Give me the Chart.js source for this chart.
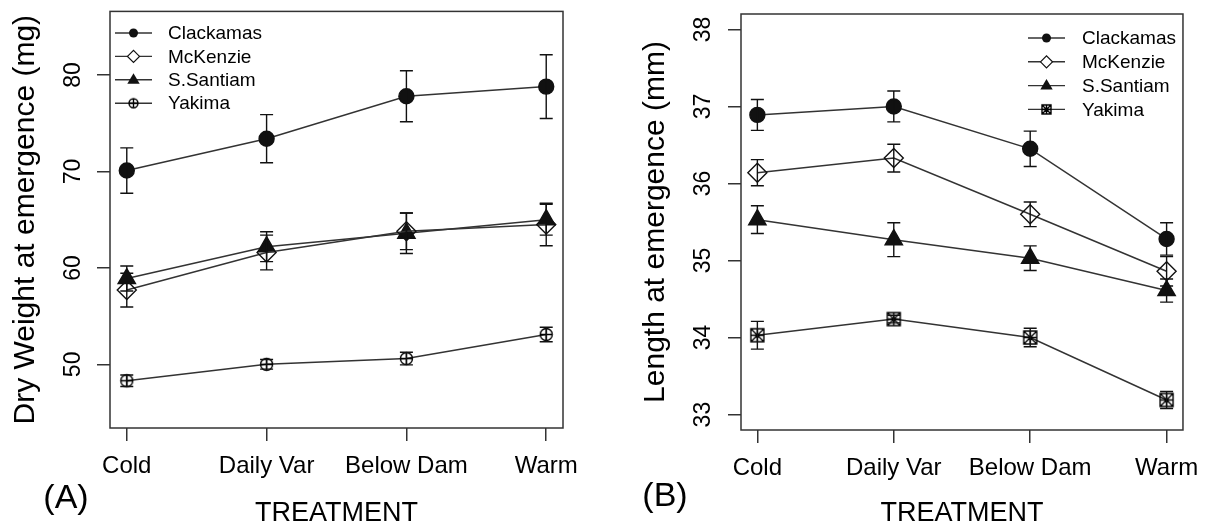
<!DOCTYPE html>
<html>
<head>
<meta charset="utf-8">
<script src="https://cdn.jsdelivr.net/npm/chart.js@4/dist/chart.umd.min.js"></script>
<style>
html, body { margin: 0; padding: 0; background: #fff; }
#wrap { position: relative; width: 1210px; height: 527px; }
#wrap canvas { position: absolute; top: 0; }
#panelA { left: 0; }
#panelB { left: 605px; }
</style>
</head>
<body>
<div id="wrap">
  <canvas id="panelA" width="605" height="527"></canvas>
  <canvas id="panelB" width="605" height="527"></canvas>
</div>
<script>
const treatments = ['Cold', 'Daily Var', 'Below Dam', 'Warm'];
const sites = ['Clackamas', 'McKenzie', 'S.Santiam', 'Yakima'];

// (A) dry weight at emergence, mg (mean and error)
const weightClackamas = [70.1, 73.4, 77.8, 78.8];
const weightClackamasErr = [2.35, 2.5, 2.65, 3.3];
const weightMcKenzie = [57.7, 61.6, 63.8, 64.5];
const weightMcKenzieErr = [1.75, 1.8, 1.9, 2.2];
const weightSantiam = [58.9, 62.2, 63.6, 65.0];
const weightSantiamErr = [1.3, 1.55, 2.1, 1.6];
const weightYakima = [48.3, 50.0, 50.6, 53.1];
const weightYakimaErr = [0.6, 0.5, 0.65, 0.75];
const weightTicks = [50, 60, 70, 80];

// (B) length at emergence, mm
const lengthClackamas = [36.89, 37.0, 36.45, 35.28];
const lengthClackamasErr = [0.2, 0.2, 0.23, 0.21];
const lengthMcKenzie = [36.14, 36.33, 35.6, 34.86];
const lengthMcKenzieErr = [0.17, 0.18, 0.16, 0.19];
const lengthSantiam = [35.53, 35.27, 35.03, 34.61];
const lengthSantiamErr = [0.18, 0.22, 0.16, 0.15];
const lengthYakima = [34.03, 34.24, 34.0, 33.19];
const lengthYakimaErr = [0.18, 0.05, 0.12, 0.11];
const lengthTicks = [33, 34, 35, 36, 37, 38];

const FONT = '"Liberation Sans", Arial, sans-serif';
const INK = '#111';

function markCanvas(kind, r) {
    const size = Math.ceil(r * 2 + 4) | 1;
    const c = document.createElement('canvas');
    c.width = size;
    c.height = size;
    const g = c.getContext('2d');
    const m = size / 2;
    g.strokeStyle = '#000';
    g.lineWidth = 1.4;
    g.beginPath();
    if (kind === 'circlePlus') {
        g.arc(m, m, r, 0, Math.PI * 2);
        g.moveTo(m - r, m); g.lineTo(m + r, m);
        g.moveTo(m, m - r); g.lineTo(m, m + r);
    } else {
        g.rect(m - r, m - r, 2 * r, 2 * r);
        g.moveTo(m - r, m - r); g.lineTo(m + r, m + r);
        g.moveTo(m + r, m - r); g.lineTo(m - r, m + r);
        g.moveTo(m - r, m); g.lineTo(m + r, m);
        g.moveTo(m, m - r); g.lineTo(m, m + r);
    }
    g.stroke();
    return c;
}

function drawMark(ctx, kind, x, y, r) {
    ctx.save();
    ctx.strokeStyle = INK;
    ctx.fillStyle = INK;
    ctx.lineWidth = 1.2;
    ctx.beginPath();
    if (kind === 'circle') {
        ctx.arc(x, y, r, 0, Math.PI * 2);
        ctx.fill();
    } else if (kind === 'diamond') {
        ctx.moveTo(x - r, y); ctx.lineTo(x, y - r); ctx.lineTo(x + r, y); ctx.lineTo(x, y + r);
        ctx.closePath();
        ctx.fillStyle = '#fff';
        ctx.fill();
        ctx.stroke();
    } else if (kind === 'triangle') {
        ctx.moveTo(x, y - r);
        ctx.lineTo(x + r * 0.95, y + r * 0.6);
        ctx.lineTo(x - r * 0.95, y + r * 0.6);
        ctx.closePath();
        ctx.fill();
    } else {
        ctx.drawImage(kind, x - kind.width / 2, y - kind.height / 2);
    }
    ctx.restore();
}

const framePlugin = {
    id: 'frame',
    beforeDatasetsDraw(chart) {
        const a = chart.chartArea;
        const ctx = chart.ctx;
        ctx.save();
        ctx.strokeStyle = '#333';
        ctx.lineWidth = 1.5;
        ctx.strokeRect(a.left, a.top, a.right - a.left, a.bottom - a.top);
        ctx.restore();
    },
    afterDatasetsDraw(chart) {
        const ctx = chart.ctx;
        const xs = chart.scales.x;
        const ys = chart.scales.y;
        ctx.save();
        ctx.strokeStyle = INK;
        ctx.lineWidth = 1.4;
        chart.data.datasets.forEach(ds => {
            ds.data.forEach((pt, i) => {
                const e = ds.errors[i];
                const x = xs.getPixelForValue(pt.x);
                const y1 = ys.getPixelForValue(pt.y + e);
                const y2 = ys.getPixelForValue(pt.y - e);
                ctx.beginPath();
                ctx.moveTo(x, y1); ctx.lineTo(x, y2);
                ctx.moveTo(x - 6.5, y1); ctx.lineTo(x + 6.5, y1);
                ctx.moveTo(x - 6.5, y2); ctx.lineTo(x + 6.5, y2);
                ctx.stroke();
            });
        });
        ctx.restore();
    },
    afterDraw(chart) {
        const p = chart.options.plugins.frame;
        const ctx = chart.ctx;
        const ys = chart.scales.y;
        ctx.save();
        ctx.fillStyle = '#000';
        // y tick labels, rotated like R's default axis
        ctx.font = '23px ' + FONT;
        ctx.textAlign = 'center';
        ctx.textBaseline = 'middle';
        p.yTicks.forEach(v => {
            ctx.save();
            ctx.translate(p.yLabelX, ys.getPixelForValue(v));
            ctx.rotate(-Math.PI / 2);
            ctx.fillText(String(v), 0, 0);
            ctx.restore();
        });
        // legend
        const lg = p.legend;
        chart.data.datasets.forEach((ds, k) => {
            const y = lg.y + k * lg.step;
            ctx.strokeStyle = '#333';
            ctx.lineWidth = 1.4;
            ctx.beginPath();
            ctx.moveTo(lg.x1, y); ctx.lineTo(lg.x2, y);
            ctx.stroke();
            drawMark(ctx, ds.legendMark, (lg.x1 + lg.x2) / 2, y, ds.legendRadius);
            ctx.fillStyle = '#000';
            ctx.font = '19px ' + FONT;
            ctx.textAlign = 'left';
            ctx.fillText(ds.label, lg.textX, y + 1);
        });
        // panel tag
        ctx.font = '34px ' + FONT;
        ctx.textAlign = 'center';
        ctx.fillText(p.tag, p.tagX, p.tagY);
        ctx.restore();
    }
};

function makePanel(id, p) {
    const marks = [
        {pointStyle: 'circle', pointRadius: 7.5, pointBackgroundColor: INK, legendMark: 'circle', legendRadius: 4.5},
        {pointStyle: 'rectRot', pointRadius: 9.5, pointBackgroundColor: 'rgba(0,0,0,0)', legendMark: 'diamond', legendRadius: 6},
        {pointStyle: 'triangle', pointRadius: 10, pointBackgroundColor: INK, legendMark: 'triangle', legendRadius: 6.5},
        {pointStyle: markCanvas(p.yakimaKind, p.yakimaR), pointRadius: 6, pointBackgroundColor: 'rgba(0,0,0,0)',
         legendMark: markCanvas(p.yakimaKind, 4.5), legendRadius: 4.5}
    ];
    const datasets = p.series.map((vals, k) => Object.assign({
        label: sites[k],
        data: vals.map((v, i) => ({x: i + 1, y: v})),
        errors: p.errors[k],
        borderColor: '#333',
        borderWidth: 1.5,
        pointBorderColor: INK,
        pointBorderWidth: 1.4,
        tension: 0,
        clip: false
    }, marks[k]));

    const canvas = document.getElementById(id).getContext('2d');
    return new Chart(canvas, {
        type: 'line',
        data: {datasets: datasets},
        plugins: [framePlugin],
        options: {
            responsive: false,
            animation: false,
            events: [],
            layout: {padding: {top: p.top, right: p.right, left: 0, bottom: 0}},
            plugins: {
                legend: {display: false},
                tooltip: {enabled: false},
                frame: p
            },
            scales: {
                x: {
                    type: 'linear',
                    min: 0.88,
                    max: 4.12,
                    afterBuildTicks: s => { s.ticks = treatments.map((t, i) => ({value: i + 1})); },
                    afterFit: s => { s.height = 527 - p.bottom; },
                    border: {display: false},
                    grid: {drawOnChartArea: false, drawTicks: true, tickLength: 13, color: '#333', lineWidth: 1.5},
                    ticks: {
                        autoSkip: false, maxRotation: 0, padding: 11, color: '#000',
                        font: {family: FONT, size: 24},
                        callback: v => treatments[v - 1]
                    },
                    title: {
                        display: true, text: 'TREATMENT', color: '#000',
                        font: {family: FONT, size: 27, lineHeight: 1},
                        padding: {top: 0, bottom: 0}
                    }
                },
                y: {
                    min: p.yMin,
                    max: p.yMax,
                    afterBuildTicks: s => { s.ticks = p.yTicks.map(v => ({value: v})); },
                    afterFit: s => { s.width = p.left; },
                    border: {display: false},
                    grid: {drawOnChartArea: false, drawTicks: true, tickLength: 13, color: '#333', lineWidth: 1.5},
                    ticks: {display: false},
                    title: {
                        display: true, text: p.yTitle, color: '#000',
                        font: {family: FONT, size: 30, lineHeight: 1},
                        padding: {top: p.yTitlePad, bottom: 0}
                    }
                }
            }
        }
    });
}

makePanel('panelA', {
    series: [weightClackamas, weightMcKenzie, weightSantiam, weightYakima],
    errors: [weightClackamasErr, weightMcKenzieErr, weightSantiamErr, weightYakimaErr],
    yTicks: weightTicks, yMin: 43.4, yMax: 86.6,
    yTitle: 'Dry Weight at emergence (mg)', yTitlePad: 11,
    left: 110, right: 42, top: 7, bottom: 428,
    yLabelX: 74,
    yakimaKind: 'circlePlus', yakimaR: 6,
    legend: {x1: 115, x2: 152, textX: 168, y: 33, step: 23.4},
    tag: '(A)', tagX: 66, tagY: 499
});

makePanel('panelB', {
    series: [lengthClackamas, lengthMcKenzie, lengthSantiam, lengthYakima],
    errors: [lengthClackamasErr, lengthMcKenzieErr, lengthSantiamErr, lengthYakimaErr],
    yTicks: lengthTicks, yMin: 32.8, yMax: 38.2,
    yTitle: 'Length at emergence (mm)', yTitlePad: 36,
    left: 136, right: 23, top: 14, bottom: 430,
    yLabelX: 99,
    yakimaKind: 'squareStar', yakimaR: 6.5,
    legend: {x1: 423, x2: 460, textX: 477, y: 38, step: 23.8},
    tag: '(B)', tagX: 60, tagY: 497
});
</script>
</body>
</html>
